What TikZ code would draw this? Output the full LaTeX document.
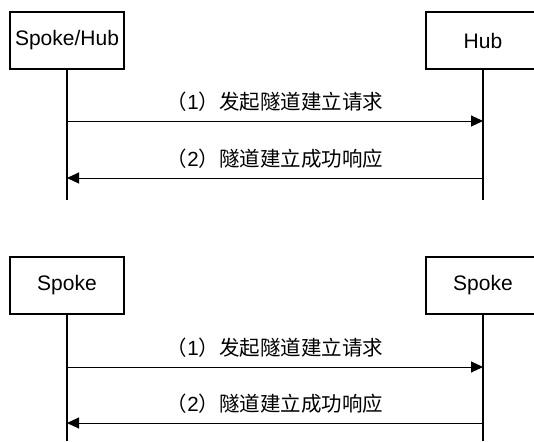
\documentclass[tikz,border=0pt]{standalone}
\usepackage{fontspec}
\setmainfont{Liberation Sans}
\newfontfamily\cjk{Noto Sans CJK SC}
\usetikzlibrary{arrows.meta}
\newcommand{\numlbl}[1]{（{\rmfamily #1}）}
\begin{document}
\begin{tikzpicture}[x=1pt,y=-1pt,
  actor/.style={draw, line width=1.3pt, minimum width=114pt, minimum height=57pt, inner sep=0pt, font=\fontsize{21}{21}\selectfont},
  life/.style={line width=1.6pt},
  msg/.style={line width=1pt, -{Triangle[length=12pt,width=11pt]}},
  lbl/.style={font=\cjk\fontsize{20.5}{21}\selectfont, inner sep=0pt, yshift=19.5pt}]
\useasboundingbox (0,0) rectangle (534,441);
% top scenario
\node[actor] (a1) at (67,40.5) {Spoke/Hub};
\node[actor] (b1) at (483,40.5) {Hub};
\coordinate (a1e) at (67,200);
\coordinate (b1e) at (483,200);
\draw[life] (a1.south) -- (a1e);
\draw[life] (b1.south) -- (b1e);
\coordinate (a1m1) at (67,121);
\coordinate (b1m1) at (483,121);
\coordinate (a1m2) at (67,178);
\coordinate (b1m2) at (483,178);
\draw[msg] (a1m1) -- (b1m1) node[midway, lbl] {\numlbl{1}发起隧道建立请求};
\draw[msg] (b1m2) -- (a1m2) node[midway, lbl] {\numlbl{2}隧道建立成功响应};
% bottom scenario
\node[actor] (a2) at (67,285.5) {Spoke};
\node[actor] (b2) at (483,285.5) {Spoke};
\coordinate (a2e) at (67,441);
\coordinate (b2e) at (483,441);
\draw[life] (a2.south) -- (a2e);
\draw[life] (b2.south) -- (b2e);
\coordinate (a2m1) at (67,367);
\coordinate (b2m1) at (483,367);
\coordinate (a2m2) at (67,423);
\coordinate (b2m2) at (483,423);
\draw[msg] (a2m1) -- (b2m1) node[midway, lbl] {\numlbl{1}发起隧道建立请求};
\draw[msg] (b2m2) -- (a2m2) node[midway, lbl] {\numlbl{2}隧道建立成功响应};
\end{tikzpicture}
\end{document}
